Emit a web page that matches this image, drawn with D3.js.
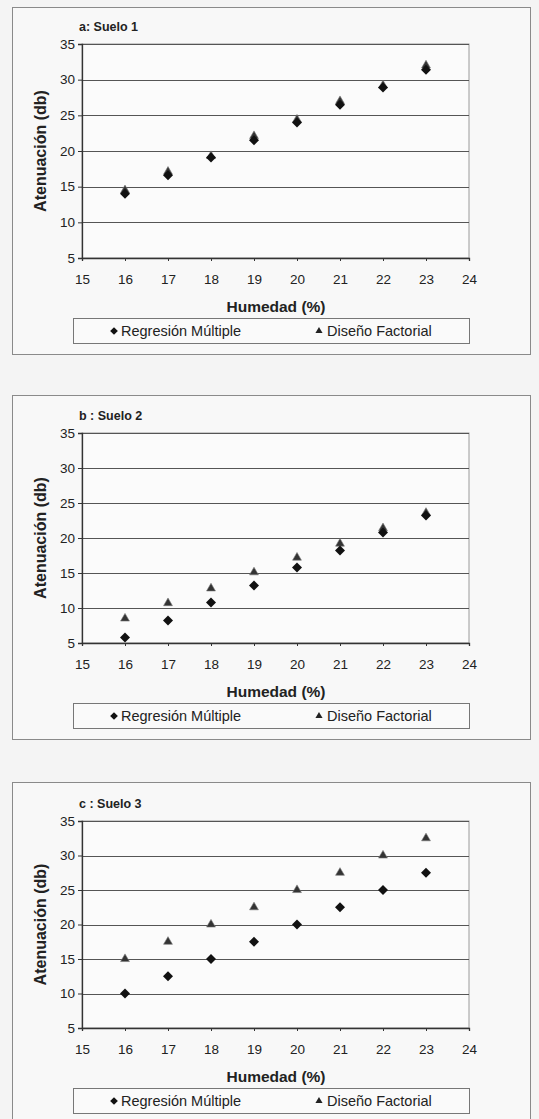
<!DOCTYPE html>
<html>
<head>
<meta charset="utf-8">
<script src="https://cdn.jsdelivr.net/npm/d3@7"></script>
<style>
  body { margin: 0; background: #f4f4f4; }
  svg { display: block; }
</style>
</head>
<body>
<div id="chart-area"></div>
<script>
// canvas size
const svgWidth = 539,
      svgHeight = 1119;

// data
const humedad = [16, 17, 18, 19, 20, 21, 22, 23];
const xTicks = [15, 16, 17, 18, 19, 20, 21, 22, 23, 24];
const yTicks = [5, 10, 15, 20, 25, 30, 35];
const titles = ["a: Suelo 1", "b : Suelo 2", "c : Suelo 3"];
const seriesNames = ["Regresión Múltiple", "Diseño Factorial"];

const suelo1Regresion = [14.0, 16.6, 19.1, 21.5, 24.0, 26.5, 28.9, 31.4];
const suelo1Factorial = [14.5, 17.1, 19.3, 22.1, 24.4, 27.0, 29.2, 32.0];
const suelo2Regresion = [5.8, 8.2, 10.8, 13.2, 15.8, 18.2, 20.8, 23.2];
const suelo2Factorial = [8.5, 10.7, 12.8, 15.1, 17.2, 19.2, 21.4, 23.6];
const suelo3Regresion = [10.0, 12.5, 15.0, 17.5, 20.0, 22.5, 25.0, 27.5];
const suelo3Factorial = [15.0, 17.5, 20.0, 22.5, 25.0, 27.5, 30.0, 32.5];

const panelData = [
    [suelo1Regresion, suelo1Factorial],
    [suelo2Regresion, suelo2Factorial],
    [suelo3Regresion, suelo3Factorial]
];

// layout of each panel (plot top / bottom in page pixels)
const panels = [
    { boxTop: 7,   plotTop: 44,  plotBottom: 258 },
    { boxTop: 395, plotTop: 433, plotBottom: 643 },
    { boxTop: 782, plotTop: 821, plotBottom: 1028 }
];
const plotLeft = 82, plotRight = 469;

const font = "'Liberation Sans', Arial, sans-serif";

var svg = d3.select("#chart-area").append("svg")
    .attr("width", svgWidth)
    .attr("height", svgHeight);

var xScale = d3.scaleLinear().domain([15, 24]).range([plotLeft, plotRight]);

// diamond = square turned 45 degrees
var diamond = d3.symbol().type(d3.symbolSquare).size(50);
var triangle = d3.symbol().type(d3.symbolTriangle).size(34);

panels.forEach(function(p, i){
    var g = svg.append("g");
    var yScale = d3.scaleLinear().domain([5, 35]).range([p.plotBottom, p.plotTop]);

    // outer frame
    g.append("rect")
        .attr("x", 12.5)
        .attr("y", p.boxTop + 0.5)
        .attr("width", 518)
        .attr("height", p.plotBottom + 96 - p.boxTop)
        .attr("fill", "#f8f8f8")
        .attr("stroke", "#8a8a8a")
        .attr("stroke-width", 1);

    // plot area
    g.append("rect")
        .attr("x", plotLeft)
        .attr("y", p.plotTop)
        .attr("width", plotRight - plotLeft)
        .attr("height", p.plotBottom - p.plotTop)
        .attr("fill", "#fbfbfb")
        .attr("stroke", "#9a9a9a");

    // gridlines
    g.selectAll(".grid")
        .data(yTicks.slice(1))
        .enter().append("line")
        .attr("x1", plotLeft).attr("x2", plotRight)
        .attr("y1", function(d){ return Math.round(yScale(d)) + 0.5; })
        .attr("y2", function(d){ return Math.round(yScale(d)) + 0.5; })
        .attr("stroke", "#555")
        .attr("stroke-width", 1);

    // axes
    var yAxisCall = d3.axisLeft(yScale).tickValues(yTicks).tickSize(4).tickPadding(3);
    var yAxis = g.append("g")
        .attr("transform", "translate(" + plotLeft + ",0)")
        .call(yAxisCall);

    var xAxisCall = d3.axisBottom(xScale).tickValues(xTicks).tickSize(3).tickPadding(13);
    var xAxis = g.append("g")
        .attr("transform", "translate(0," + p.plotBottom + ")")
        .call(xAxisCall);

    [xAxis, yAxis].forEach(function(a){
        a.select(".domain").attr("stroke", "#333").attr("stroke-width", 1.3);
        a.selectAll(".tick line").attr("stroke", "#333");
        a.selectAll("text")
            .attr("font-family", font)
            .attr("font-size", "13.5px")
            .attr("fill", "#222");
    });

    // title
    g.append("text")
        .attr("x", 79)
        .attr("y", p.plotTop - 13)
        .attr("font-family", font)
        .attr("font-size", "12.5px")
        .attr("font-weight", "bold")
        .attr("fill", "#222")
        .text(titles[i]);

    // axis labels
    g.append("text")
        .attr("x", 276)
        .attr("y", p.plotBottom + 54)
        .attr("font-family", font)
        .attr("font-size", "15.5px")
        .attr("font-weight", "bold")
        .attr("text-anchor", "middle")
        .attr("fill", "#222")
        .text("Humedad (%)");

    g.append("text")
        .attr("transform", "rotate(-90)")
        .attr("x", -(p.plotTop + p.plotBottom) / 2)
        .attr("y", 46)
        .attr("font-family", font)
        .attr("font-size", "16px")
        .attr("font-weight", "bold")
        .attr("text-anchor", "middle")
        .attr("fill", "#222")
        .text("Atenuación (db)");

    // markers
    var regresion = panelData[i][0], factorial = panelData[i][1];

    g.selectAll(".fact")
        .data(factorial)
        .enter().append("path")
        .attr("d", triangle)
        .attr("transform", function(d, j){ return "translate(" + xScale(humedad[j]) + "," + yScale(d) + ")"; })
        .attr("fill", "#333")
        .attr("stroke", "#777")
        .attr("stroke-width", 0.6);

    g.selectAll(".reg")
        .data(regresion)
        .enter().append("path")
        .attr("d", diamond)
        .attr("transform", function(d, j){ return "translate(" + xScale(humedad[j]) + "," + yScale(d) + ") rotate(45)"; })
        .attr("fill", "#111");

    // legend
    var ly = p.plotBottom + 60;
    g.append("rect")
        .attr("x", 73.5)
        .attr("y", ly + 0.5)
        .attr("width", 396)
        .attr("height", 25)
        .attr("fill", "#fafafa")
        .attr("stroke", "#777");

    g.append("path")
        .attr("d", d3.symbol().type(d3.symbolSquare).size(30))
        .attr("transform", "translate(114," + (ly + 13) + ") rotate(45)")
        .attr("fill", "#111");
    g.append("text")
        .attr("x", 121)
        .attr("y", ly + 18)
        .attr("font-family", font)
        .attr("font-size", "14.5px")
        .attr("fill", "#222")
        .text(seriesNames[0]);

    g.append("path")
        .attr("d", d3.symbol().type(d3.symbolTriangle).size(22))
        .attr("transform", "translate(319," + (ly + 13) + ")")
        .attr("fill", "#222");
    g.append("text")
        .attr("x", 327)
        .attr("y", ly + 18)
        .attr("font-family", font)
        .attr("font-size", "14.5px")
        .attr("fill", "#222")
        .text(seriesNames[1]);
});
</script>
</body>
</html>
